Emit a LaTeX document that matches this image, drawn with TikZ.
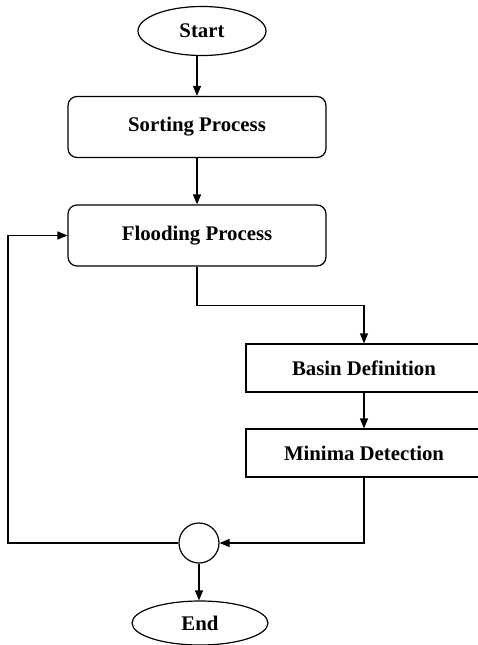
\documentclass[tikz,border=0pt]{standalone}
\usepackage{fontspec}
\setmainfont{Liberation Serif}
\usepackage{tikz}
\usetikzlibrary{arrows.meta}
\usetikzlibrary{shapes.geometric}

\begin{document}
\begin{tikzpicture}[
		x=1pt, y=-1pt,
		line width=1.2pt,
		>={Triangle[length=10pt,width=8pt]},
		font=\bfseries\fontsize{20.8}{24}\selectfont,
	]
		\useasboundingbox (0,0) rectangle (477,645);

		% terminals
		\begin{scope}[every node/.style={ellipse,draw,inner sep=0pt}]
			\node[minimum width=128pt, minimum height=49pt] (start) at (202, 31) {Start};
			\node[minimum width=136pt, minimum height=44pt] (end) at (200, 623) {End};
		\end{scope}

		% processes
		\begin{scope}[every node/.style={rectangle,draw,rounded corners=9pt,minimum width=258pt,minimum height=61pt}]
			\node (sort) at (197, 127) {Sorting Process};
			\node (flood) at (197, 235.5) {Flooding Process};
		\end{scope}
		\begin{scope}[every node/.style={rectangle,draw,minimum width=236pt,minimum height=48pt}]
			\node (basin) at (364, 368) {Basin Definition};
			\node (minima) at (364, 453) {Minima Detection};
		\end{scope}
		\node[circle,draw,minimum size=40pt,inner sep=0pt] (join) at (199, 543) {};
		\coordinate (loop) at (8, 543);

		% flow
		\draw [->] (start.south -| sort.north) -- (sort.north);
		\draw [->] (sort) -- (flood);
		\draw [->] (flood.south) -- ++(0, 39) -| (basin.north);
		\draw [->] (basin) -- (minima);
		\draw [->] (minima.south) |- (join.east);
		\draw [->] (join.west) -- (loop) |- (flood.west);
		\draw [->] (join.south) -- (join.south |- end.north);
	\end{tikzpicture}
\end{document}
